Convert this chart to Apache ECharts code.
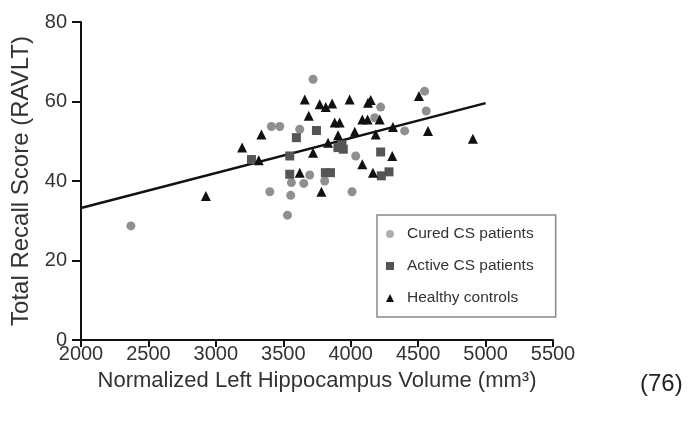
<!DOCTYPE html>
<html><head><meta charset="utf-8">
<script src="https://cdn.jsdelivr.net/npm/echarts@6/dist/echarts.min.js"></script>
<style>html,body{margin:0;padding:0;background:#fff}#c{width:690px;height:423px}</style>
</head><body><div id="c"></div>
<script>
var xTicks = [2000, 2500, 3000, 3500, 4000, 4500, 5000, 5500];
var yTicks = [0, 20, 40, 60, 80];
var curedX = [2370,3721,4548,4560,4222,4178,4400,3412,3474,3622,4037,3696,3560,3652,3807,3400,3555,4010,3531];
var curedY = [28.7,65.6,62.6,57.6,58.6,55.9,52.6,53.7,53.7,53.0,46.3,41.5,39.6,39.4,40.0,37.3,36.4,37.3,31.4];
var activeX = [3264,3597,3746,3548,3548,3812,3850,3905,3935,3945,4222,4284,4227];
var activeY = [45.4,50.9,52.7,46.3,41.7,42.1,42.1,48.4,49.2,48.0,47.3,42.3,41.3];
var healthyX = [2926,3195,3338,3318,3659,3689,3770,3815,3862,3881,3918,3992,4128,4148,4086,4125,4215,4313,4185,4030,3906,3832,3721,3622,3783,4086,4165,4308,4506,4573,4906];
var healthyY = [36.2,48.4,51.7,45.2,60.5,56.4,59.3,58.6,59.5,54.7,54.7,60.5,59.7,60.4,55.5,55.5,55.5,53.6,51.7,52.4,51.5,49.6,47.1,42.1,37.3,44.2,42.1,46.3,61.4,52.6,50.6];
var fitX = [2000, 5000];
var fitY = [33.2, 59.6];
var seriesNames = ['Cured CS patients', 'Active CS patients', 'Healthy controls'];

function pairs(xs, ys){ return xs.map(function(x,i){ return [x, ys[i]]; }); }

var chart = echarts.init(document.getElementById('c'));
var font = '"Liberation Sans", Arial, sans-serif';
chart.setOption({
  animation: false,
  backgroundColor: '#fff',
  grid: { left: 81, right: 137, top: 22, bottom: 83, containLabel: false, outerBoundsMode: 'none' },
  xAxis: {
    type: 'value', min: xTicks[0], max: xTicks[xTicks.length-1], interval: 500,
    name: 'Normalized Left Hippocampus Volume (mm³)', nameLocation: 'middle', nameGap: 30,
    nameTextStyle: { fontFamily: font, fontSize: 22, color: '#333' },
    axisLine: { lineStyle: { color: '#111', width: 2 } },
    axisTick: { length: 7, lineStyle: { color: '#111', width: 2 } },
    axisLabel: { fontFamily: font, fontSize: 20, color: '#333', margin: 4, formatter: function(v){ return String(v); } },
    splitLine: { show: false }
  },
  yAxis: {
    type: 'value', min: yTicks[0], max: yTicks[yTicks.length-1], interval: 20,
    name: 'Total Recall Score (RAVLT)', nameLocation: 'middle', nameGap: 46,
    nameTextStyle: { fontFamily: font, fontSize: 24, color: '#333' },
    axisLine: { show: true, lineStyle: { color: '#111', width: 2 } },
    axisTick: { show: true, length: 9, lineStyle: { color: '#111', width: 2 } },
    axisLabel: { fontFamily: font, fontSize: 20, color: '#333', margin: 14 },
    splitLine: { show: false }
  },
  legend: {
    orient: 'vertical', left: 377, top: 215,
    padding: [10, 22, 10, 9], itemGap: 14,
    borderColor: '#888', borderWidth: 1.5,
    itemWidth: 8, itemHeight: 8,
    textStyle: { fontFamily: font, fontSize: 15.5, color: '#333', lineHeight: 18, padding: [0, 0, 0, 8] },
    data: [
      { name: seriesNames[0], icon: 'circle', itemStyle: { color: '#b0b0b0' } },
      { name: seriesNames[1], icon: 'rect' },
      { name: seriesNames[2], icon: 'triangle' }
    ]
  },
  series: [
    { type: 'line', data: pairs(fitX, fitY), symbol: 'none', lineStyle: { color: '#111', width: 2.5 }, z: 1, silent: true },
    { name: seriesNames[0], type: 'scatter', symbol: 'circle', symbolSize: 9, data: pairs(curedX, curedY), itemStyle: { color: '#8f8f8f', opacity: 1 }, z: 2 },
    { name: seriesNames[1], type: 'scatter', symbol: 'rect', symbolSize: 9, data: pairs(activeX, activeY), itemStyle: { color: '#555', opacity: 1 }, z: 3 },
    { name: seriesNames[2], type: 'scatter', symbol: 'triangle', symbolSize: 10, data: pairs(healthyX, healthyY), itemStyle: { color: '#111', opacity: 1 }, z: 4 }
  ],
  graphic: [
    { type: 'text', left: 640, top: 372, style: { text: '(76)', font: '24px ' + font, fill: '#222' } }
  ]
});
</script></body></html>
